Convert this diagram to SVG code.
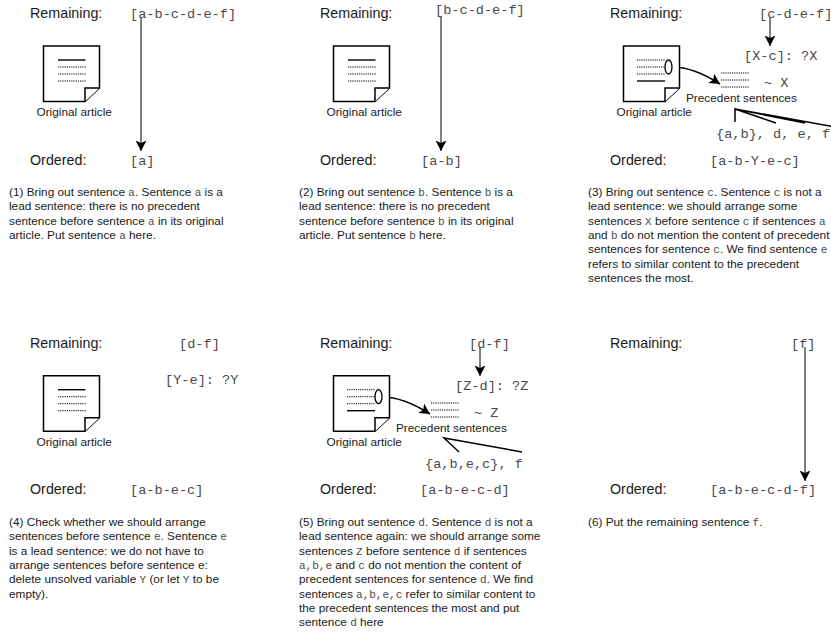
<svg xmlns="http://www.w3.org/2000/svg" width="831" height="633" viewBox="0 0 831 633">
<style>
text{font-family:"Liberation Sans",Arial,sans-serif;fill:#1a1a1a}
.h{font-size:14.3px}
.c{font-size:11.8px}
.b{font-size:11.8px}
.m{font-family:"Liberation Mono","Courier New",monospace;font-size:13.6px;fill:#4a4a4a}
.i{font-family:"Liberation Mono","Courier New",monospace;font-size:11px;fill:#4a4a4a}
.w{font-family:"Liberation Mono","Courier New",monospace;font-size:13.6px;fill:#4a4a4a}
.d{fill:#fff;stroke:#000;stroke-width:1.5}
.s{fill:none;stroke:#000;stroke-width:1.4}
.t{fill:none;stroke:#000;stroke-width:1;stroke-dasharray:1.2 1}
.e{fill:#fff;stroke:#000;stroke-width:1.3}
.a{fill:none;stroke:#000;stroke-width:1}
.k{fill:none;stroke:#000;stroke-width:1.5}
.g{fill:none;stroke:#000;stroke-width:1.5}
</style>
<defs>
<marker id="ah" markerUnits="userSpaceOnUse" markerWidth="12" markerHeight="12" refX="10.5" refY="5.5" orient="auto"><path d="M0,0L10.5,5.5L0,11L2.5,5.5Z" fill="#000"/></marker>
<g id="doc"><path class="d" d="M43.5,46H99.5V88L85,101.5H43.5Z"/><path class="d" d="M85,101.5V88H99.5"/></g>
<g id="lead"><path class="s" d="M58,60H85.5"/><path class="t" d="M58,67H86M58,74H86M58,81H86"/></g>
<g id="scan"><path class="t" d="M57,60H85M57,67H85M57,74H85"/><path class="s" d="M57,81H85"/><ellipse class="e" cx="88.5" cy="67" rx="3.5" ry="7"/></g>
<path id="prec" class="t" d="M0,0H28M0,7H28M0,14H28"/>
</defs>

<g id="connectors">
<path class="a" marker-end="url(#ah)" d="M141,18V151"/>
<path class="a" marker-end="url(#ah)" d="M441,16V151"/>
<path class="a" marker-end="url(#ah)" d="M770,17V46"/>
<path class="k" marker-end="url(#ah)" d="M672,67C690,67 706,75 720,84"/>
<path class="g" d="M735,122V109L776,123M735,109L805,123M735,109L835,127"/>
<path class="a" marker-end="url(#ah)" d="M480,347V376"/>
<path class="k" marker-end="url(#ah)" d="M382,397C400,397 416,405 430,414"/>
<path class="g" d="M459,452L444,438L522,452"/>
<path class="a" marker-end="url(#ah)" d="M805,347V481"/>
</g>

<g id="panel1">
<text class="h" x="30" y="18">Remaining:</text>
<text class="m" x="130" y="18">[a-b-c-d-e-f]</text>
<g id="doc1"><use href="#doc"/><use href="#lead"/><text class="c" x="36.5" y="116">Original article</text></g>
<text class="h" x="30" y="165">Ordered:</text>
<text class="m" x="130" y="165">[a]</text>
<text class="b" x="9" y="196">(1) Bring out sentence <tspan class="i">a</tspan>. Sentence <tspan class="i">a</tspan> is a</text>
<text class="b" x="9" y="210.3">lead sentence: there is no precedent</text>
<text class="b" x="9" y="224.6">sentence before sentence <tspan class="i">a</tspan> in its original</text>
<text class="b" x="9" y="238.9">article. Put sentence <tspan class="i">a</tspan> here.</text>
</g>

<g id="panel2">
<text class="h" x="320" y="18">Remaining:</text>
<text class="m" x="435" y="14">[b-c-d-e-f]</text>
<g id="doc2" transform="translate(290 0)"><use href="#doc"/><use href="#lead"/><text class="c" x="36.5" y="116">Original article</text></g>
<text class="h" x="320" y="165">Ordered:</text>
<text class="m" x="421" y="165">[a-b]</text>
<text class="b" x="299" y="196">(2) Bring out sentence <tspan class="i">b</tspan>. Sentence <tspan class="i">b</tspan> is a</text>
<text class="b" x="299" y="210.3">lead sentence: there is no precedent</text>
<text class="b" x="299" y="224.6">sentence before sentence <tspan class="i">b</tspan> in its original</text>
<text class="b" x="299" y="238.9">article. Put sentence <tspan class="i">b</tspan> here.</text>
</g>

<g id="panel3">
<text class="h" x="610" y="18">Remaining:</text>
<text class="m" x="759" y="18">[c-d-e-f]</text>
<text class="m" x="744" y="60">[X-c]: ?X</text>
<g id="doc3" transform="translate(580 0)"><use href="#doc"/><use href="#scan"/><text class="c" x="36.5" y="116">Original article</text></g>
<g id="prec3"><use href="#prec" x="721" y="73"/><text class="w" x="764" y="87">~ X</text><text class="c" x="686" y="102">Precedent sentences</text></g>
<text class="m" x="716" y="138">{a,b}, d, e, f</text>
<text class="h" x="610" y="165">Ordered:</text>
<text class="m" x="710" y="165">[a-b-Y-e-c]</text>
<text class="b" x="588" y="196">(3) Bring out sentence <tspan class="i">c</tspan>. Sentence <tspan class="i">c</tspan> is not a</text>
<text class="b" x="588" y="210.3">lead sentence: we should arrange some</text>
<text class="b" x="588" y="224.6">sentences <tspan class="i">X</tspan> before sentence <tspan class="i">c</tspan> if sentences <tspan class="i">a</tspan></text>
<text class="b" x="588" y="238.9">and <tspan class="i">b</tspan> do not mention the content of precedent</text>
<text class="b" x="588" y="253.2">sentences for sentence <tspan class="i">c</tspan>. We find sentence <tspan class="i">e</tspan></text>
<text class="b" x="588" y="267.5">refers to similar content to the precedent</text>
<text class="b" x="588" y="281.8">sentences the most.</text>
</g>

<g id="panel4">
<text class="h" x="30" y="348">Remaining:</text>
<text class="m" x="179" y="348">[d-f]</text>
<text class="m" x="165" y="384">[Y-e]: ?Y</text>
<g id="doc4" transform="translate(0 329.7)"><use href="#doc"/><use href="#lead"/><text class="c" x="36.5" y="116">Original article</text></g>
<text class="h" x="30" y="494">Ordered:</text>
<text class="m" x="130" y="494">[a-b-e-c]</text>
<text class="b" x="9" y="526">(4) Check whether we should arrange</text>
<text class="b" x="9" y="540.3">sentences before sentence <tspan class="i">e</tspan>. Sentence <tspan class="i">e</tspan></text>
<text class="b" x="9" y="554.6">is a lead sentence: we do not have to</text>
<text class="b" x="9" y="568.9">arrange sentences before sentence e:</text>
<text class="b" x="9" y="583.2">delete unsolved variable <tspan class="i">Y</tspan> (or let <tspan class="i">Y</tspan> to be</text>
<text class="b" x="9" y="597.5">empty).</text>
</g>

<g id="panel5">
<text class="h" x="320" y="348">Remaining:</text>
<text class="m" x="469" y="348">[d-f]</text>
<text class="m" x="455" y="390">[Z-d]: ?Z</text>
<g id="doc5" transform="translate(290 329.7)"><use href="#doc"/><use href="#scan"/><text class="c" x="36.5" y="116">Original article</text></g>
<g id="prec5"><use href="#prec" x="431" y="403"/><text class="w" x="474" y="417">~ Z</text><text class="c" x="396" y="432">Precedent sentences</text></g>
<text class="m" x="425" y="468">{a,b,e,c}, f</text>
<text class="h" x="320" y="494">Ordered:</text>
<text class="m" x="420" y="494">[a-b-e-c-d]</text>
<text class="b" x="299" y="526">(5) Bring out sentence <tspan class="i">d</tspan>. Sentence <tspan class="i">d</tspan> is not a</text>
<text class="b" x="299" y="540.3">lead sentence again: we should arrange some</text>
<text class="b" x="299" y="554.6">sentences <tspan class="i">Z</tspan> before sentence <tspan class="i">d</tspan> if sentences</text>
<text class="b" x="299" y="568.9"><tspan class="i">a,b,e</tspan> and <tspan class="i">c</tspan> do not mention the content of</text>
<text class="b" x="299" y="583.2">precedent sentences for sentence <tspan class="i">d</tspan>. We find</text>
<text class="b" x="299" y="597.5">sentences <tspan class="i">a,b,e,c</tspan> refer to similar content to</text>
<text class="b" x="299" y="611.8">the precedent sentences the most and put</text>
<text class="b" x="299" y="626.1">sentence <tspan class="i">d</tspan> here</text>
</g>

<g id="panel6">
<text class="h" x="610" y="348">Remaining:</text>
<text class="m" x="791" y="348">[f]</text>
<text class="h" x="610" y="494">Ordered:</text>
<text class="m" x="710" y="494">[a-b-e-c-d-f]</text>
<text class="b" x="588" y="526">(6) Put the remaining sentence <tspan class="i">f</tspan>.</text>
</g>
</svg>
